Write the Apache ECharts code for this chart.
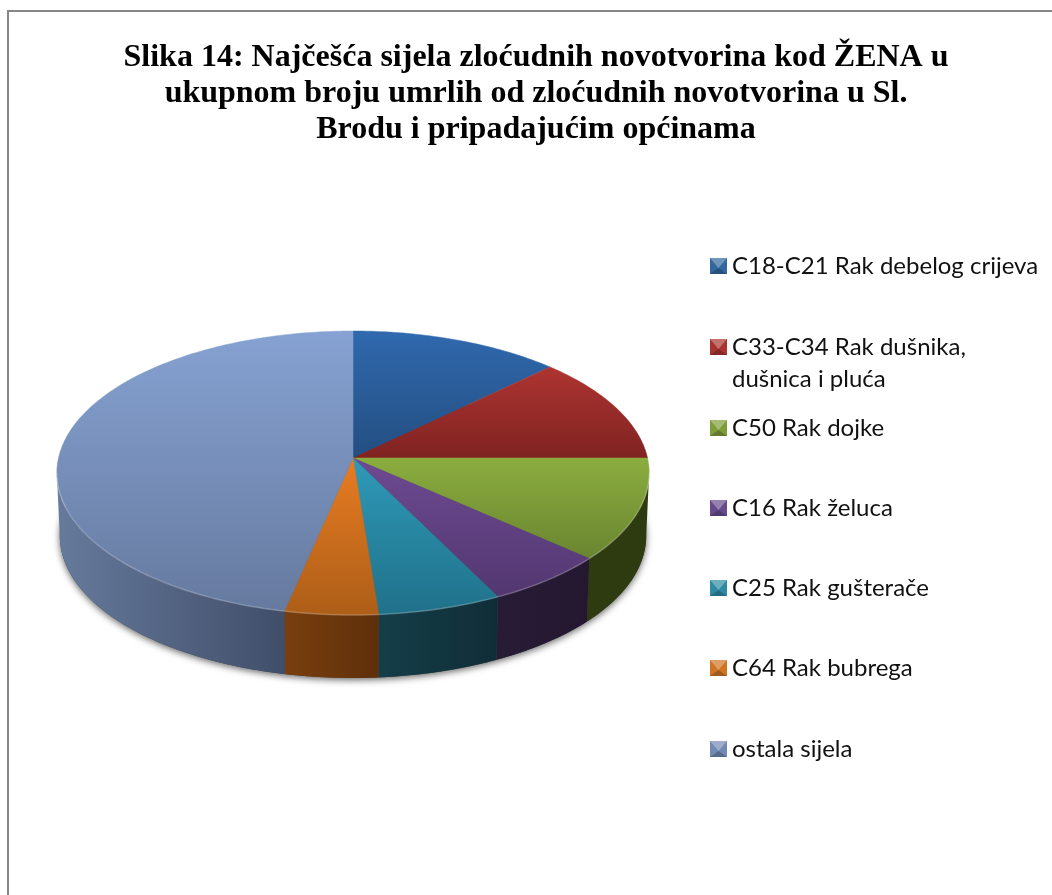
<!DOCTYPE html>
<html>
<head>
<meta charset="utf-8">
<title>Slika 14</title>
<style>html,body{margin:0;padding:0;background:#fff}#c{width:1052px;height:895px}</style>
<script src="https://cdn.jsdelivr.net/npm/echarts@6/dist/echarts.min.js"></script>
</head>
<body>
<div id="c"></div>
<script>
const titleText = 'Slika 14: Najčešća sijela zloćudnih novotvorina kod ŽENA u\nukupnom broju umrlih od zloćudnih novotvorina u Sl.\nBrodu i pripadajućim općinama';
const categories = ['C18-C21 Rak debelog crijeva','C33-C34 Rak dušnika,\ndušnica i pluća','C50 Rak dojke','C16 Rak želuca','C25 Rak gušterače','C64 Rak bubrega','ostala sijela'];
const shares = [12.75, 12.25, 11.6, 6.05, 6.1, 4.6, 46.65];

const keyColors = ['#33689f','#a83431','#7f9c3a','#674a8c','#2f8ba3','#cf7423','#7189b3'];
const topLight  = ['#3069ae','#ae3431','#8bad3f','#6e4a92','#2e9ab8','#e87c22','#86a2d2'];
const topDark   = ['#234e80','#7f2321','#6a8530','#523770','#20718a','#ad5e18','#667a9f'];
const wallLeft  = ['#223f60','#4a1a18','#2e3a10','#281b36','#143e49','#7a3f0f','#667a9c'];
const wallRight = ['#223f60','#4a1a18','#2e3a10','#241830','#102d37','#5e2f0a','#404e69'];

const cx = 353, cy = 458, A = 294.5, B = 140.4, K = 0.1056, DEPTH = 63, SHRINK = 0.99;
const keyX = 710, keyW = 17, keyH = 16;
const keyCentres = [266, 347, 428, 508, 588, 668, 749];
const total = shares.reduce((a, b) => a + b, 0);
const RAD = Math.PI / 180;

function rim(deg) {
  const u = Math.sin(deg * RAD), v = Math.cos(deg * RAD), d = 1 + K * v;
  return [cx + A * u / d, cy - B * v / d];
}
function low(p) { return [cx + (p[0] - cx) * SHRINK, p[1] + DEPTH]; }
function arc(a, b) {
  const pts = [], n = Math.max(2, Math.ceil(Math.abs(b - a)));
  for (let i = 0; i <= n; i++) pts.push(rim(a + (b - a) * i / n));
  return pts;
}
const frontA = Math.acos(-K) / RAD, frontB = 360 - frontA;

function vGrad(c1, c2) {
  return new echarts.graphic.LinearGradient(0, 0, 0, 1, [{offset: 0, color: c1}, {offset: 1, color: c2}]);
}
function hGrad(c1, c2) {
  return new echarts.graphic.LinearGradient(0, 0, 1, 0, [{offset: 0, color: c1}, {offset: 1, color: c2}]);
}

function makeRender(idx) {
  return function () {
    const children = [];
    const before = shares.slice(0, idx).reduce((a, b) => a + b, 0);
    const start = before / total * 360, end = (before + shares[idx]) / total * 360;
    if (idx === 0) {
      children.push({
        type: 'polygon', z2: 0,
        shape: {points: arc(0, 360).map(low)},
        style: {fill: '#444', shadowColor: 'rgba(0,0,0,0.6)', shadowBlur: 7, shadowOffsetY: 2, shadowOffsetX: 0}
      });
    }
    const wa = Math.max(start, frontA), wb = Math.min(end, frontB);
    if (wb > wa) {
      const top = arc(wa, wb);
      children.push({
        type: 'polygon', z2: 1,
        shape: {points: top.concat(top.slice().reverse().map(low))},
        style: {fill: hGrad(wallLeft[idx], wallRight[idx])}
      });
    }
    const topFill = vGrad(topLight[idx], topDark[idx]);
    children.push({
      type: 'polygon', z2: 5,
      shape: {points: [[cx, cy]].concat(arc(start, end))},
      style: {fill: topFill, stroke: topFill, lineWidth: 0.5}
    });
    if (wb > wa) {
      children.push({
        type: 'polyline', z2: 6,
        shape: {points: arc(wa, wb)},
        style: {fill: 'none', stroke: 'rgba(255,255,255,0.22)', lineWidth: 1.5}
      });
    }
    const y0 = keyCentres[idx] - keyH / 2, x0 = keyX, mx = keyX + keyW / 2, my = keyCentres[idx] + 2;
    children.push({type: 'polygon', z2: 7, shape: {points: [[x0, y0], [x0 + keyW, y0], [mx, my]]}, style: {fill: 'rgba(255,255,255,0.3)'}});
    children.push({type: 'polygon', z2: 7, shape: {points: [[x0, y0 + keyH], [x0 + keyW, y0 + keyH], [mx, my]]}, style: {fill: 'rgba(0,0,0,0.22)'}});
    return {type: 'group', children};
  };
}

const legendText = {fontFamily: 'Lato', fontSize: 24, color: '#111', lineHeight: 32};
const legends = categories.map((name, i) => {
  const two = name.indexOf('\n') >= 0;
  return {
    data: [name], left: keyX, top: keyCentres[i] - (two ? 48 : 16),
    padding: 0, icon: 'rect', itemWidth: keyW, itemHeight: keyH, itemGap: 0, selectedMode: false,
    formatter: n => (two ? '\n' + n : n),
    textStyle: legendText
  };
});

const chart = echarts.init(document.getElementById('c'), null, {renderer: 'canvas'});
chart.setOption({
  animation: false,
  backgroundColor: '#ffffff',
  title: {
    text: titleText, left: 531, top: 35, textAlign: 'center',
    textStyle: {fontFamily: 'Liberation Serif', fontWeight: 'bold', fontSize: 32, lineHeight: 36, color: '#000'}
  },
  legend: legends,
  graphic: [
    {type: 'rect', shape: {x: 7, y: 10, width: 1045, height: 2}, style: {fill: '#868686'}, silent: true},
    {type: 'rect', shape: {x: 7, y: 10, width: 2, height: 885}, style: {fill: '#868686'}, silent: true}
  ],
  series: categories.map((name, i) => ({
    type: 'custom', name, coordinateSystem: 'none', z: 10, silent: true,
    itemStyle: {color: keyColors[i]},
    data: [shares[i]],
    renderItem: makeRender(i)
  }))
});
</script>
</body>
</html>
